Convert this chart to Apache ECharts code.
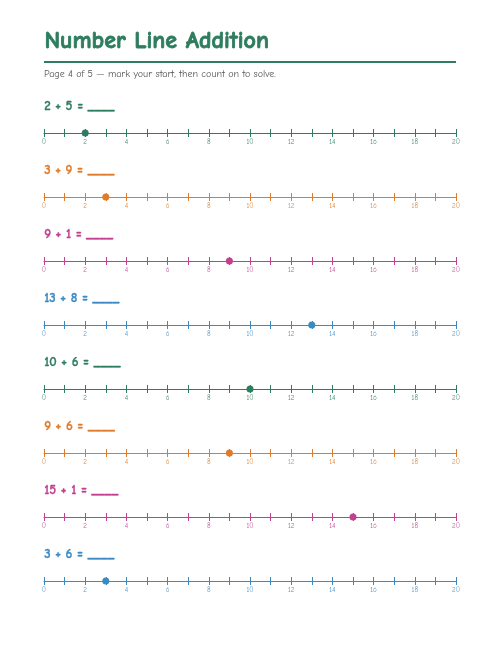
<!DOCTYPE html>
<html><head><meta charset="utf-8">
<script src="https://cdn.jsdelivr.net/npm/echarts@6/dist/echarts.min.js"></script>
<style>html,body{margin:0;padding:0;background:#fff}#c{width:500px;height:648px}</style>
</head><body><div id="c"></div>
<script>
const problems = ["2 + 5 = ____","3 + 9 = ____","9 + 1 = ____","13 + 8 = ____","10 + 6 = ____","9 + 6 = ____","15 + 1 = ____","3 + 6 = ____"];
const starts = [2,3,9,13,10,9,15,3];
const palette = ["#2e7d5e","#e07b2a","#c2408f","#3b8ac4"];
const labelColors = ["#4a8a70","#d98a45","#c0579b","#5597cc"];
const axisMin = 0, axisMax = 20;
const title = "Number Line Addition";
const subtitle = "Page 4 of 5 — mark your start, then count on to solve.";

const font = '"Comic Sans MS","Comic Neue","DejaVu Sans",sans-serif';
const chart = echarts.init(document.getElementById('c'));
const grids=[],xAxes=[],yAxes=[],series=[],graphics=[];
graphics.push({type:'text',left:44,top:29,style:{text:title,font:'900 24px '+font,fill:palette[0],stroke:palette[0],lineWidth:0.8}});
graphics.push({type:'rect',shape:{x:44,y:61,width:412,height:2},style:{fill:palette[0]}});
graphics.push({type:'text',left:44,top:69,style:{text:subtitle,font:'10px '+font,fill:'#555'}});
problems.forEach((p,i)=>{
  const c=palette[i%4], lc=labelColors[i%4];
  const ly=133+i*64;
  graphics.push({type:'text',left:44,top:ly-33,style:{text:p,font:'bold 13px '+font,fill:c,stroke:c,lineWidth:0.3}});
  grids.push({left:44,width:412,top:ly,height:0.01});
  const base={type:'value',gridIndex:i,min:axisMin,max:axisMax,interval:1,splitLine:{show:false}};
  xAxes.push(Object.assign({},base,{position:'bottom',
    axisLine:{lineStyle:{color:c,width:1.2}},axisTick:{length:4,lineStyle:{color:c}},
    axisLabel:{fontSize:7,color:lc,margin:6,fontFamily:font,formatter:v=>v%2===0?String(v):''}}));
  xAxes.push(Object.assign({},base,{position:'top',
    axisLine:{show:false},axisTick:{length:4,lineStyle:{color:c}},axisLabel:{show:false}}));
  yAxes.push({type:'value',gridIndex:i,show:false,min:0,max:1});
  series.push({type:'scatter',xAxisIndex:2*i,yAxisIndex:i,symbolSize:7,itemStyle:{color:c,opacity:1},data:[[starts[i],0]],z:5});
});
chart.setOption({animation:false,grid:grids,xAxis:xAxes,yAxis:yAxes,series,graphic:graphics});
</script></body></html>
